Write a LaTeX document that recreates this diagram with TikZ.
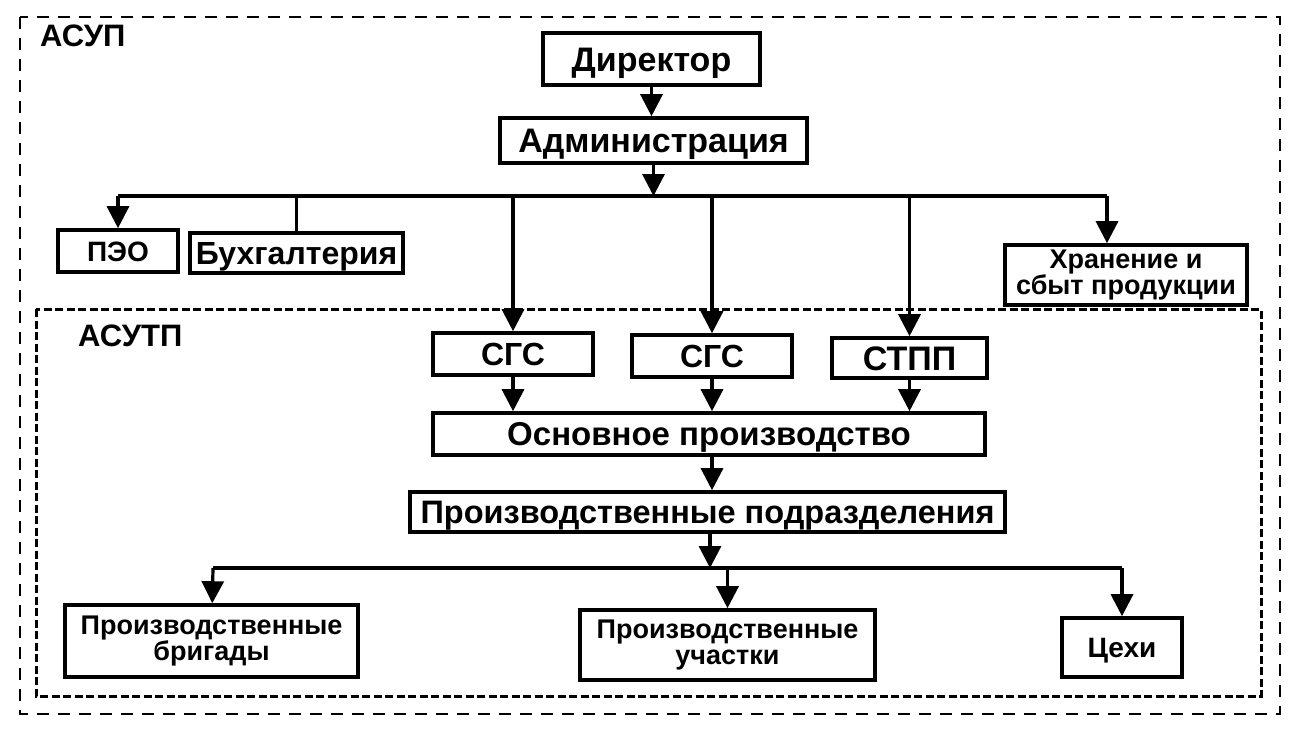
\documentclass[tikz,border=0pt]{standalone}
\usepackage{fontspec}
\setmainfont{Liberation Sans}
\usetikzlibrary{arrows.meta}
\begin{document}
\begin{tikzpicture}[x=1pt,y=-1pt,
  frame/.style={draw,line width=3.6pt,inner sep=0pt},
  fs/.style={font=\bfseries\fontsize{#1}{#1}\selectfont,text height=0.72*#1 pt,text depth=0pt},
  box/.style={frame,fs=34},
  twobox/.style={frame,align=center,font=\bfseries\fontsize{27}{26.5}\selectfont},
  conn/.style={line width=3.2pt},
  arr/.style={conn,-{Triangle[width=22pt,length=22pt]}},
  outerzone/.style={line width=2.4pt,dash pattern=on 12pt off 9pt},
  innerzone/.style={line width=3pt,dash pattern=on 8pt off 3.5pt},
  zonelabel/.style={anchor=west,inner sep=0pt,fs=31}]
\useasboundingbox (0,0) rectangle (1289,740);
% zones
\draw[outerzone] (20,17) rectangle (1280,714);
\draw[innerzone] (36,309) rectangle (1261,696);
\node[zonelabel] (asup) at (40,35) {АСУП};
\node[zonelabel] (asutp) at (78,335) {АСУТП};
% boxes
\node[box,minimum width=217pt,minimum height=52pt] (dir) at (651.5,59) {Директор};
\node[box,minimum width=307pt,minimum height=45pt] (adm) at (653.5,140.5) {Администрация};
\node[box,fs=28,minimum width=120pt,minimum height=42pt] (peo) at (118,251) {ПЭО};
\node[box,fs=32,minimum width=213pt,minimum height=40pt] (buh) at (296.5,253) {Бухгалтерия};
\node[twobox,minimum width=242pt,minimum height=60pt] (hran) at (1126,275) {Хранение и\\сбыт продукции};
\node[box,fs=32,minimum width=160pt,minimum height=42pt] (sgsa) at (513,354) {СГС};
\node[box,fs=32,minimum width=160pt,minimum height=42pt] (sgsb) at (712,356) {СГС};
\node[box,minimum width=155pt,minimum height=40pt] (stpp) at (909.5,358) {СТПП};
\node[box,fs=33,minimum width=552pt,minimum height=42pt] (osn) at (709,434) {Основное производство};
\node[box,fs=32.5,minimum width=595pt,minimum height=40pt] (podr) at (707.5,512) {Производственные подразделения};
\node[twobox,minimum width=293pt,minimum height=72pt] (brig) at (211.5,641) {Производственные\\бригады};
\node[twobox,minimum width=295pt,minimum height=70pt] (uch) at (727.5,645) {Производственные\\участки};
\node[box,fs=28,minimum width=120pt,minimum height=59pt] (ceh) at (1122,647.5) {Цехи};
% bus 1
\coordinate (b1L) at (118,196);
\coordinate (b1R) at (1107,196);
\draw[conn] (b1L) -- (b1R);
\draw[arr] (dir) -- (dir |- adm.north);
\draw[arr] (adm) -- (adm |- b1L);
\draw[arr] (b1L) -- (peo);
\draw[conn] (buh |- b1L) -- (buh);
\draw[arr] (sgsa |- b1L) -- (sgsa);
\draw[arr] (sgsb |- b1L) -- (sgsb);
\draw[arr] (stpp |- b1L) -- (stpp);
\draw[arr] (b1R) -- (b1R |- hran.north);
% middle
\draw[arr] (sgsa) -- (sgsa |- osn.north);
\draw[arr] (sgsb) -- (sgsb |- osn.north);
\draw[arr] (stpp) -- (stpp |- osn.north);
\draw[arr] (osn.south -| sgsb) -- (podr.north -| sgsb);
% bus 2
\coordinate (b2L) at (213,568);
\coordinate (b2R) at (1122,568);
\draw[conn] (b2L) -- (b2R);
\draw[arr] (podr.south -| 710,0) -- (710,568);
\draw[arr] (b2L) -- (brig);
\draw[arr] (uch |- b2L) -- (uch);
\draw[arr] (b2R) -- (ceh);
\end{tikzpicture}
\end{document}
